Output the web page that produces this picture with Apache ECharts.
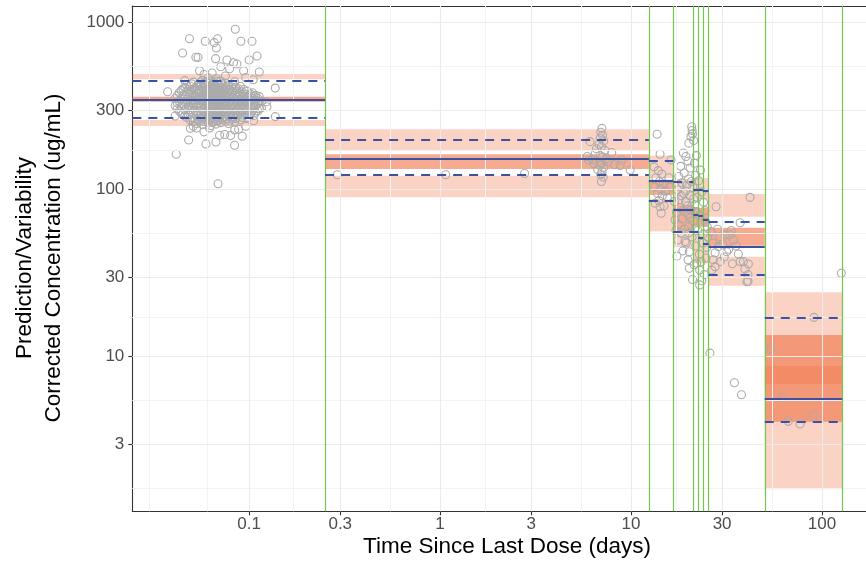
<!DOCTYPE html>
<html>
<head>
<meta charset="utf-8">
<script src="https://cdn.jsdelivr.net/npm/echarts@6/dist/echarts.min.js"></script>
<style>
  html, body { margin: 0; padding: 0; background: #ffffff; }
  #chart { width: 866px; height: 562px; }
</style>
</head>
<body>
<div id="chart"></div>
<script>
// Axis breaks
const xTicks = [0.1, 0.3, 1, 3, 10, 30, 100];
const yTicks = [3, 10, 30, 100, 300, 1000];

// Time bins (days); the first bin starts at the left edge of the panel
const binEdges = [0.0244, 0.25, 12.4, 16.65, 21.2, 22.5, 23.8, 25.5, 50.2, 127.8];

// Observed percentiles per bin
const obsP95 = [448, 199, 150, 112, 100.6, 100.6, 98.6, 64.7, 17.2];
const obsP50 = [348, 153, 113, 75.6, 70.6, 69.6, 66.5, 45.6, 5.6];
const obsP05 = [268, 123, 85.6, 56, 55.8, 51.9, 47.3, 31.1, 4.1];

// Simulated confidence intervals of the percentiles per bin
const ciP95Lo = [458, 173, 117.5, 81, 87.6, 87.6, 87.6, 68.9, 6.87];
const ciP95Hi = [493, 230, 160, 116, 117.5, 117.5, 117.5, 94.3, 24.3];
const ciP50Lo = [336, 133, 93, 56, 60, 60, 60, 46.2, 4.08];
const ciP50Hi = [360, 163, 112, 81, 78, 78, 78, 59.2, 13.5];
const ciP05Lo = [241, 90, 56.3, 45.3, 36.3, 36.3, 36.3, 26.6, 1.61];
const ciP05Hi = [261, 121, 87.6, 56, 55.7, 55.7, 55.7, 39.7, 8.8];

// Observations shortly after the dose: [time, concentrations...] columns
const earlyColumns = [
  [0.041, [318, 352]],
  [0.042, [305, 331, 366]],
  [0.043, [296, 338, 381]],
  [0.044, [288, 315, 349, 392]],
  [0.045, [284, 326, 364, 402]],
  [0.046, [276, 301, 337, 372, 410]],
  [0.047, [271, 309, 347, 389, 425]],
  [0.048, [281, 319, 358, 398]],
  [0.049, [262, 301, 331, 372, 418]],
  [0.050, [270, 311, 342, 384, 430]],
  [0.051, [255, 289, 322, 356, 396, 441]],
  [0.052, [266, 299, 333, 367, 405]],
  [0.053, [249, 278, 312, 343, 377, 412]],
  [0.054, [262, 287, 319, 352, 388, 426]],
  [0.055, [258, 296, 329, 361, 398, 437]],
  [0.056, [268, 284, 313, 346, 380, 417]],
  [0.057, [246, 274, 305, 336, 369, 406, 452]],
  [0.058, [256, 291, 323, 341, 357, 392, 431]],
  [0.059, [263, 289, 318, 351, 384, 421]],
  [0.060, [272, 298, 309, 329, 362, 375, 402, 444]],
  [0.061, [251, 279, 302, 333, 364, 394, 433, 468]],
  [0.062, [262, 286, 315, 347, 370, 381, 418]],
  [0.063, [242, 268, 294, 325, 357, 388, 415, 449]],
  [0.064, [253, 276, 303, 334, 362, 396, 428]],
  [0.065, [256, 284, 311, 341, 372, 405, 439]],
  [0.066, [265, 291, 320, 348, 359, 386, 421]],
  [0.067, [247, 273, 299, 328, 352, 380, 411, 462]],
  [0.068, [258, 282, 307, 337, 366, 392, 445]],
  [0.069, [261, 288, 316, 345, 376, 398, 428]],
  [0.070, [270, 297, 326, 354, 383, 409]],
  [0.071, [252, 279, 306, 336, 366, 392, 447]],
  [0.072, [263, 288, 314, 344, 373, 431]],
  [0.073, [268, 295, 322, 355, 386, 419]],
  [0.074, [275, 303, 332, 349, 362, 396]],
  [0.075, [257, 284, 313, 342, 371, 403, 435]],
  [0.076, [266, 292, 321, 351, 381, 414]],
  [0.078, [249, 276, 301, 331, 360, 391, 424]],
  [0.079, [258, 286, 312, 341, 369, 399]],
  [0.081, [265, 292, 319, 348, 379, 412]],
  [0.082, [274, 301, 329, 357, 388, 428]],
  [0.084, [256, 283, 309, 338, 368, 401, 443]],
  [0.085, [267, 291, 317, 346, 377, 409]],
  [0.087, [271, 298, 326, 357, 386]],
  [0.088, [280, 307, 334, 366, 401]],
  [0.090, [262, 289, 317, 345, 377, 416]],
  [0.092, [271, 297, 325, 354, 386]],
  [0.094, [279, 306, 335, 364, 398]],
  [0.096, [288, 315, 344, 373]],
  [0.098, [270, 297, 326, 353, 389]],
  [0.100, [281, 307, 334, 364]],
  [0.102, [286, 314, 343, 372]],
  [0.104, [297, 323, 351, 381]],
  [0.106, [278, 305, 333, 361]],
  [0.108, [291, 318, 344, 368]],
  [0.111, [296, 327, 352]],
  [0.113, [305, 336, 361]],
  [0.116, [309, 338]]
];
const earlyScattered = [
  [0.0846, 913], [0.0487, 802], [0.0589, 774], [0.0656, 760], [0.0683, 802],
  [0.0673, 706], [0.0906, 774], [0.1035, 774], [0.0448, 659], [0.0526, 621],
  [0.0540, 620], [0.0667, 609], [0.110, 632], [0.100, 598], [0.0828, 576],
  [0.0765, 598], [0.0863, 566], [0.113, 507], [0.0935, 516], [0.055, 516],
  [0.0374, 386], [0.137, 406], [0.123, 336], [0.124, 314], [0.137, 274],
  [0.041, 276], [0.0415, 163], [0.0687, 108.6], [0.0482, 198.5], [0.0594, 188],
  [0.067, 193], [0.0839, 184.5], [0.092, 209], [0.070, 212], [0.0745, 214],
  [0.080, 211], [0.062, 234], [0.053, 234], [0.1055, 259], [0.0492, 233],
  [0.051, 240], [0.071, 545], [0.079, 530], [0.058, 490], [0.064, 500],
  [0.096, 470], [0.105, 455], [0.046, 450], [0.075, 480], [0.088, 230],
  [0.096, 240], [0.058, 222], [0.084, 228]
];
// Observations in the later bins
const midObs = [
  [0.29, 123], [1.07, 123], [2.77, 125],
  [7.04, 233], [6.95, 221], [7.1, 212], [6.9, 204], [6.1, 194], [7.2, 196],
  [6.8, 187], [7.0, 181], [6.6, 176], [7.3, 172], [7.93, 167], [6.5, 164],
  [6.9, 160], [7.1, 157], [6.3, 152], [6.0, 150], [7.4, 153], [8.93, 150.6],
  [8.77, 139.6], [7.0, 145], [6.85, 140], [7.2, 136], [6.7, 132], [9.9, 131],
  [7.05, 128], [6.95, 123], [7.15, 119], [7.0, 112], [6.4, 143], [7.6, 147],
  [8.2, 141], [5.9, 158]
];
const lateObs = [
  [13.7, 215], [14.2, 163], [16.2, 150.6], [13.2, 137], [13.9, 130], [14.5, 124],
  [13.5, 118], [14.1, 112], [14.8, 108], [13.3, 104], [14.3, 101], [15.2, 98],
  [13.8, 95], [14.6, 92], [15.5, 90], [14.0, 86], [13.4, 83], [14.9, 80],
  [14.2, 79], [14.4, 72.3], [15.8, 118], [16.0, 104],
  [20.8, 238], [20.9, 226], [21.0, 216], [20.6, 208], [21.3, 197], [20.1, 190],
  [18.8, 166], [19.4, 158], [22.0, 160], [19.9, 148], [21.5, 144], [18.2, 138],
  [20.4, 135], [23.1, 131], [19.0, 126], [21.8, 122], [17.8, 120], [20.0, 116],
  [22.6, 113], [18.5, 110], [19.6, 106], [21.1, 103], [17.5, 100], [23.5, 97],
  [18.9, 95], [20.3, 92], [22.2, 90], [17.9, 87], [19.3, 85], [24.0, 84],
  [21.6, 81], [18.1, 78], [20.6, 76], [17.3, 73], [19.8, 71], [22.9, 70],
  [18.6, 67], [21.2, 65], [24.6, 64], [17.7, 62], [20.0, 60], [19.1, 58],
  [22.4, 57], [18.3, 55], [23.8, 54], [20.9, 52], [17.6, 50], [19.5, 48],
  [21.9, 46], [24.9, 45], [18.7, 43], [20.2, 42.5], [22.8, 41], [17.4, 40],
  [19.9, 38], [23.3, 37], [21.4, 35.5], [20.2, 33.8], [22.1, 36.3], [22.9, 33],
  [24.2, 31], [21.0, 29], [22.9, 26.9], [23.5, 28.5], [19.2, 49], [17.0, 66],
  [16.9, 85], [25.1, 60], [24.4, 75], [25.2, 52], [23.9, 48], [24.7, 39],
  [18.4, 92], [19.7, 80], [20.5, 68], [21.7, 59], [18.0, 104], [20.7, 112],
  [19.3, 98], [21.3, 88], [17.2, 57], [18.9, 75], [20.1, 55], [21.9, 74],
  [27.9, 79], [37.3, 63.4], [42, 90], [29.2, 52.3], [31.1, 53.6], [33.0, 53.6],
  [34.4, 50], [28.7, 45.6], [31.7, 42.5], [27.6, 41.9], [36.5, 41.2], [38.8, 37.1],
  [41.2, 35.9], [37.3, 37.1], [29.3, 37.1], [27.6, 34.6], [26.5, 33], [41, 31],
  [41, 28.3], [40.5, 28.1], [26.8, 48], [30.2, 47], [35.5, 46], [32.5, 44],
  [26.2, 56], [28.4, 58], [30.8, 39.5], [34.0, 36], [33.5, 57], [39.5, 33.5],
  [27.0, 38], [25.9, 10.5], [34.8, 6.98], [37.9, 5.92],
  [53.9, 11.1], [90.9, 17.2], [62.1, 5.71], [66.7, 4.1], [76.8, 3.95],
  [90.2, 4.44], [126.4, 31.6]
];

// ---- assemble ----
const X_MIN = 0.02443, X_MAX = 170.2;
const Y_MIN = 1.186, Y_MAX = 1259;
const FONT = '"Liberation Sans", Arial, Helvetica, sans-serif';

const observations = [];
earlyColumns.forEach(([t, vs]) => vs.forEach(v => observations.push([t, v])));
earlyScattered.forEach(p => observations.push(p));
midObs.forEach(p => observations.push(p));
lateObs.forEach(p => observations.push(p));

// minor grid: geometric midpoints between breaks, plus one step beyond each end
function minorBreaks(br) {
  const lg = br.map(Math.log10);
  const out = [];
  const d0 = lg[1] - lg[0], dn = lg[lg.length - 1] - lg[lg.length - 2];
  const ext = [lg[0] - d0].concat(lg, [lg[lg.length - 1] + dn]);
  for (let i = 0; i < ext.length - 1; i++) out.push(Math.pow(10, (ext[i] + ext[i + 1]) / 2));
  out.push(Math.pow(10, ext[0]), Math.pow(10, ext[ext.length - 1]));
  return out;
}
const xMinor = minorBreaks(xTicks).filter(v => v > X_MIN && v < X_MAX);
const yMinor = minorBreaks(yTicks).filter(v => v > Y_MIN && v < Y_MAX);

const nBins = binEdges.length - 1;
function areas(lo, hi) {
  const out = [];
  for (let i = 0; i < nBins; i++) {
    out.push([{ coord: [Math.max(binEdges[i], X_MIN), lo[i]] }, { coord: [binEdges[i + 1], hi[i]] }]);
  }
  return out;
}
function steps(vals) {
  const out = [];
  for (let i = 0; i < nBins; i++) {
    out.push([{ coord: [Math.max(binEdges[i], X_MIN), vals[i]] }, { coord: [binEdges[i + 1], vals[i]] }]);
  }
  return out;
}

const BAND = 'rgba(240,110,63,0.30)';
const BAND_MED = 'rgba(240,110,63,0.58)';
const BLUE = '#3A52A3';
const GREEN = '#72C84A';

function helper(z, extra) {
  return Object.assign({ type: 'scatter', data: [], z: z, silent: true, animation: false }, extra);
}
function lineMark(data, style, z) {
  return helper(z, {
    markLine: {
      silent: true, animation: false, symbol: ['none', 'none'],
      label: { show: false }, emphasis: { disabled: true },
      lineStyle: style,
      data: data.map(d => Object.assign({ lineStyle: style }, d))
    }
  });
}
function segMark(data, style, z) {
  return helper(z, {
    markLine: {
      silent: true, animation: false, symbol: ['none', 'none'],
      label: { show: false }, emphasis: { disabled: true },
      lineStyle: style, data: data
    }
  });
}
function areaMark(data, color, z) {
  return helper(z, {
    markArea: {
      silent: true, animation: false, emphasis: { disabled: true },
      label: { show: false },
      itemStyle: { color: color, borderWidth: 0 }, data: data
    }
  });
}

const chart = echarts.init(document.getElementById('chart'), null, { renderer: 'canvas' });

const fmt = v => String(+(+v).toPrecision(6));

chart.setOption({
  animation: false,
  backgroundColor: '#ffffff',
  grid: { left: 132.3, top: 6, right: 0, bottom: 50.7, containLabel: false },
  xAxis: [{
    type: 'log', logBase: 10, min: X_MIN, max: X_MAX,
    axisLine: { show: true, lineStyle: { color: '#333333', width: 1.1 } },
    axisTick: { show: true, customValues: xTicks, length: 4, lineStyle: { color: '#333333', width: 1.1 } },
    axisLabel: { show: true, customValues: xTicks, formatter: fmt, color: '#4D4D4D', fontSize: 17, fontFamily: FONT, margin: 4.5 },
    splitLine: { show: false }, minorTick: { show: false }, minorSplitLine: { show: false }
  }, {
    type: 'log', logBase: 10, min: X_MIN, max: X_MAX, position: 'top',
    axisLine: { show: true, lineStyle: { color: '#333333', width: 1.1 } },
    axisTick: { show: false }, axisLabel: { show: false }, splitLine: { show: false }
  }],
  yAxis: [{
    type: 'log', logBase: 10, min: Y_MIN, max: Y_MAX,
    axisLine: { show: true, lineStyle: { color: '#333333', width: 1.1 } },
    axisTick: { show: true, customValues: yTicks, length: 4, lineStyle: { color: '#333333', width: 1.1 } },
    axisLabel: { show: true, customValues: yTicks, formatter: fmt, color: '#4D4D4D', fontSize: 17, fontFamily: FONT, margin: 8 },
    splitLine: { show: false }, minorTick: { show: false }, minorSplitLine: { show: false }
  }],
  graphic: [
    { type: 'text', x: 507, y: 547,
      style: { text: 'Time Since Last Dose (days)', font: '22.5px ' + FONT, fill: '#000000', align: 'center', verticalAlign: 'middle' } },
    { type: 'text', x: 25, y: 258, rotation: Math.PI / 2,
      style: { text: 'Prediction/Variability', font: '22.5px ' + FONT, fill: '#000000', align: 'center', verticalAlign: 'middle' } },
    { type: 'text', x: 54, y: 258, rotation: Math.PI / 2,
      style: { text: 'Corrected Concentration (ug/mL)', font: '22.5px ' + FONT, fill: '#000000', align: 'center', verticalAlign: 'middle' } }
  ],
  series: [
    // panel grid
    lineMark(xMinor.map(v => ({ xAxis: v })), { color: '#F3F3F3', width: 1, type: 'solid' }, 1),
    lineMark(yMinor.map(v => ({ yAxis: v })), { color: '#F3F3F3', width: 1, type: 'solid' }, 1),
    lineMark(xTicks.map(v => ({ xAxis: v })), { color: '#EBEBEB', width: 1.1, type: 'solid' }, 1),
    lineMark(yTicks.map(v => ({ yAxis: v })), { color: '#EBEBEB', width: 1.1, type: 'solid' }, 1),
    // bin boundaries
    lineMark(binEdges.slice(1).map(v => ({ xAxis: v })), { color: GREEN, width: 1.2, type: 'solid', opacity: 1 }, 2),
    // observed data
    {
      type: 'scatter', data: observations, z: 3, silent: true, animation: false,
      symbol: 'circle', symbolSize: 8, large: false,
      itemStyle: { color: 'rgba(255,255,255,0)', borderColor: '#ABABAB', borderWidth: 1.1, opacity: 1 }
    },
    // simulated CIs
    areaMark(areas(ciP95Lo, ciP95Hi), BAND, 4),
    areaMark(areas(ciP05Lo, ciP05Hi), BAND, 4),
    areaMark(areas(ciP50Lo, ciP50Hi), BAND_MED, 4),
    // observed percentiles
    segMark(steps(obsP95), { color: BLUE, width: 2.2, type: [9, 7] }, 5),
    segMark(steps(obsP05), { color: BLUE, width: 2.2, type: [9, 7] }, 5),
    segMark(steps(obsP50), { color: BLUE, width: 2.2, type: 'solid' }, 5)
  ]
});
</script>
</body>
</html>
